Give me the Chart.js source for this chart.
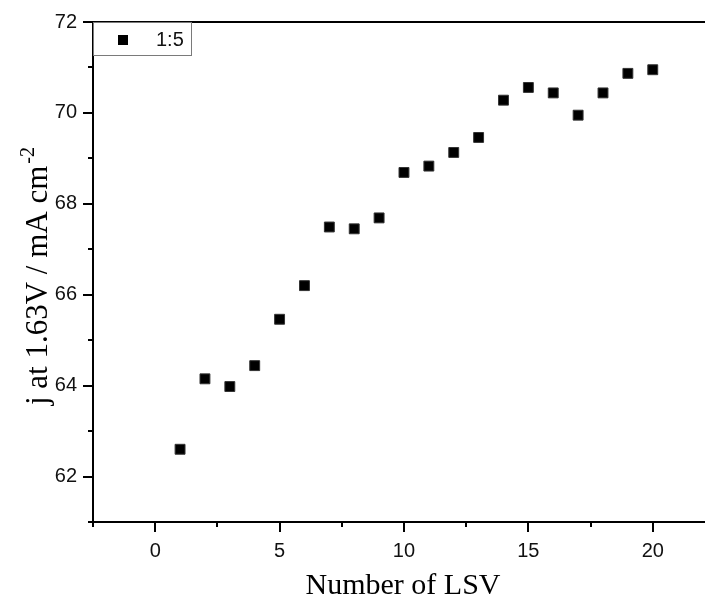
<!DOCTYPE html>
<html>
<head>
<meta charset="utf-8">
<title>j at 1.63V vs Number of LSV</title>
<script src="https://cdn.jsdelivr.net/npm/chart.js@4.4.1/dist/chart.umd.min.js"></script>
<style>
  html, body { margin: 0; padding: 0; background: #fff; overflow: hidden; }
  #wrap { width: 705px; height: 601px; position: relative; }
</style>
</head>
<body>
<div id="wrap"><canvas id="chart" width="705" height="601"></canvas></div>
<script>
// Series: current density at 1.63 V for successive LSV sweeps
const seriesLabel = '1:5';
const lsvNumber = [1, 2, 3, 4, 5, 6, 7, 8, 9, 10, 11, 12, 13, 14, 15, 16, 17, 18, 19, 20];
const currentDensity = [62.60, 64.15, 63.98, 64.44, 65.46, 66.20, 67.49, 67.45, 67.69, 68.69,
                        68.83, 69.13, 69.46, 70.28, 70.56, 70.44, 69.95, 70.44, 70.87, 70.95];

// Axis ticks
const xMajorTicks = [0, 5, 10, 15, 20];
const xMinorTicks = [-2.5, 2.5, 7.5, 12.5, 17.5];
const yMajorTicks = [62, 64, 66, 68, 70, 72];
const yMinorTicks = [61, 63, 65, 67, 69, 71];

const xTitle = 'Number of LSV';
const yTitleMain = 'j at 1.63V / mA cm';
const yTitleSup = '-2';

const SANS = '"Liberation Sans", Arial, sans-serif';
const SERIF = '"Liberation Serif", "Times New Roman", serif';

const points = lsvNumber.map((n, i) => ({ x: n, y: currentDensity[i] }));

// Tick marks, frame, legend box and axis titles
const decorations = {
  id: 'decorations',
  afterDraw(chart) {
    const { ctx, chartArea: a, scales: { x, y } } = chart;
    ctx.save();
    ctx.strokeStyle = '#000';
    ctx.lineWidth = 2;
    ctx.lineCap = 'butt';

    // top frame line
    ctx.beginPath();
    ctx.moveTo(a.left - 1, a.top);
    ctx.lineTo(a.right, a.top);
    ctx.stroke();

    const tick = (x0, y0, x1, y1) => { ctx.beginPath(); ctx.moveTo(x0, y0); ctx.lineTo(x1, y1); ctx.stroke(); };
    xMajorTicks.forEach(v => { const px = Math.round(x.getPixelForValue(v)); tick(px, a.bottom, px, a.bottom + 10); });
    xMinorTicks.forEach(v => { const px = Math.round(x.getPixelForValue(v)); tick(px, a.bottom, px, a.bottom + 5); });
    yMajorTicks.forEach(v => { const py = Math.round(y.getPixelForValue(v)); tick(a.left, py, a.left - 10, py); });
    yMinorTicks.forEach(v => { const py = Math.round(y.getPixelForValue(v)); tick(a.left, py, a.left - 5, py); });

    // legend box
    ctx.lineWidth = 1;
    ctx.strokeStyle = '#7a7a7a';
    ctx.strokeRect(a.left + 0.5, a.top + 0.5, 98, 33);
    ctx.fillStyle = '#000';
    ctx.fillRect(a.left + 25, a.top + 13, 10, 10);
    ctx.font = '20px ' + SANS;
    ctx.textBaseline = 'middle';
    ctx.textAlign = 'left';
    ctx.fillStyle = '#111';
    ctx.fillText(seriesLabel, a.left + 63, a.top + 18);

    // x title
    ctx.font = '30px ' + SERIF;
    ctx.textAlign = 'center';
    ctx.textBaseline = 'alphabetic';
    ctx.fillStyle = '#000';
    ctx.fillText(xTitle, 403, 594);

    // y title with superscript
    ctx.translate(47, 276);
    ctx.rotate(-Math.PI / 2);
    ctx.font = '31px ' + SERIF;
    const wMain = ctx.measureText(yTitleMain).width;
    ctx.font = '20px ' + SERIF;
    const wSup = ctx.measureText(yTitleSup).width;
    const start = -(wMain + wSup + 2) / 2;
    ctx.textAlign = 'left';
    ctx.font = '31px ' + SERIF;
    ctx.fillText(yTitleMain, start, 0);
    ctx.font = '20px ' + SERIF;
    ctx.fillText(yTitleSup, start + wMain + 2, -13);
    ctx.restore();
  }
};

new Chart(document.getElementById('chart'), {
  type: 'scatter',
  data: {
    datasets: [{
      label: seriesLabel,
      data: points,
      pointStyle: 'rect',
      pointRadius: 7,
      pointHoverRadius: 7,
      backgroundColor: '#000',
      borderColor: '#333',
      borderWidth: 1
    }]
  },
  options: {
    responsive: false,
    devicePixelRatio: 1,
    animation: false,
    layout: { autoPadding: false, padding: { top: 22, left: 0, right: 0, bottom: 0 } },
    plugins: { legend: { display: false }, tooltip: { enabled: false } },
    scales: {
      x: {
        type: 'linear',
        min: -2.5,
        max: 22.1,
        afterBuildTicks(scale) { scale.ticks = xMajorTicks.map(v => ({ value: v })); },
        afterFit(scale) { scale.height = 79; scale.paddingLeft = 0; scale.paddingRight = 0; },
        grid: { display: false, drawTicks: false },
        border: { display: true, color: '#000', width: 2 },
        ticks: { font: { family: SANS, size: 20 }, color: '#111', padding: 17, maxRotation: 0 }
      },
      y: {
        type: 'linear',
        min: 61,
        max: 72,
        afterBuildTicks(scale) { scale.ticks = yMajorTicks.map(v => ({ value: v })); },
        afterFit(scale) { scale.width = 93; scale.paddingTop = 0; scale.paddingBottom = 0; },
        grid: { display: false, drawTicks: false },
        border: { display: true, color: '#000', width: 2 },
        ticks: { font: { family: SANS, size: 20 }, color: '#111', padding: 16 }
      }
    }
  },
  plugins: [decorations]
});
</script>
</body>
</html>
